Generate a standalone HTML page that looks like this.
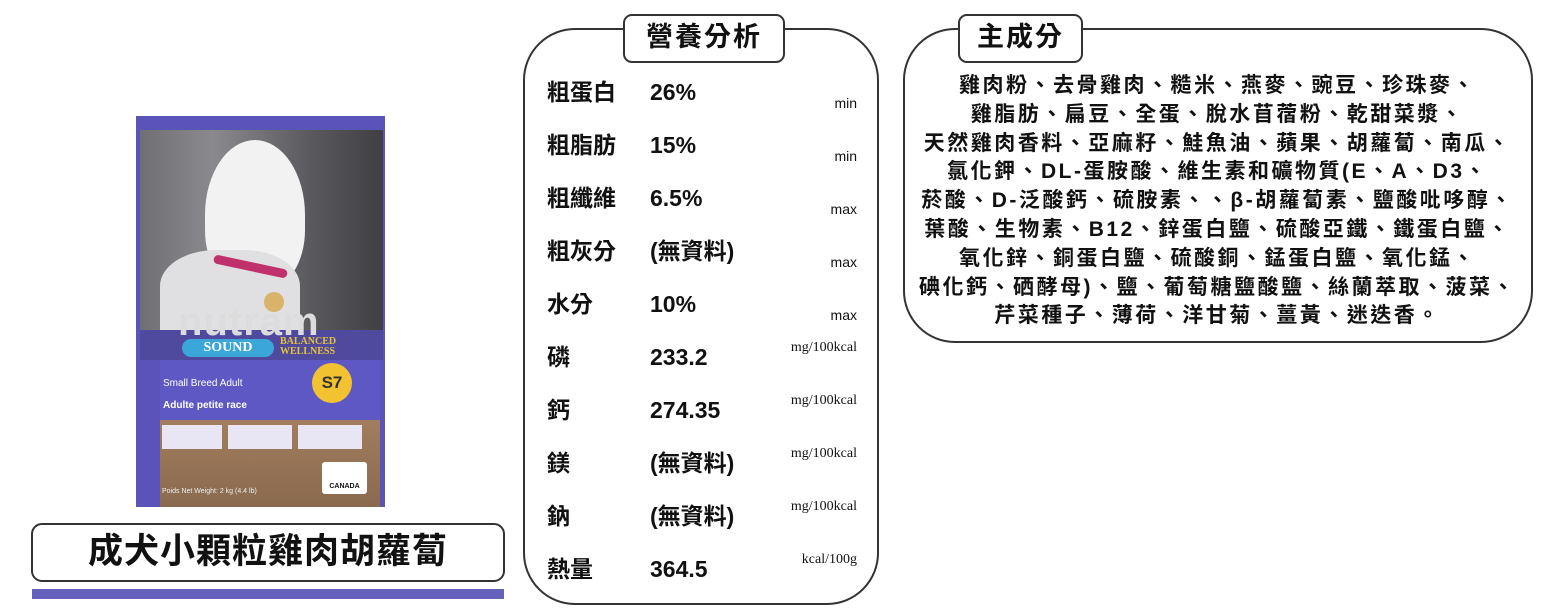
<!DOCTYPE html>
<html><head><meta charset="utf-8"><style>
body{margin:0;width:1559px;height:614px;background:#fff;position:relative;overflow:hidden;font-family:"Liberation Sans","Noto Sans CJK TC",sans-serif;color:#111}
.abs{position:absolute}
.panel{position:absolute;border:2.5px solid #333;border-radius:52px;box-sizing:border-box;background:#fff}
.tbox{position:absolute;border:2.5px solid #333;border-radius:9px;background:#fff;box-sizing:border-box;text-align:center;font-size:27px;line-height:43px;letter-spacing:2px;font-weight:bold}
.lab{position:absolute;left:547px;font-size:23px;line-height:30px;font-weight:bold}
.val{position:absolute;left:650px;font-size:23px;line-height:30px;font-weight:bold}
.unit{position:absolute;right:702px;font-size:14px;line-height:16px}
.unit2{position:absolute;right:702px;font-size:14px;line-height:16px;font-family:"Liberation Serif",serif}
.ing{position:absolute;left:895px;width:645px;top:72px;text-align:center;font-size:21px;line-height:28.8px;letter-spacing:2.5px;font-weight:bold;white-space:nowrap}
</style></head><body>
<!-- bag -->
<div class="abs" style="left:136px;top:116px;width:249px;height:391px;background:#5b54b8"></div>
<div class="abs" style="left:140px;top:130px;width:243px;height:210px;background:linear-gradient(90deg,#6f6f74,#8a8a8e 30%,#5a5a5e 70%,#3f3f44)"></div>
<div class="abs" style="left:205px;top:140px;width:100px;height:150px;background:#f2f2f2;border-radius:50% 50% 40% 40%"></div>
<div class="abs" style="left:160px;top:250px;width:140px;height:90px;background:#e0e0e3;border-radius:40% 40% 10% 10%"></div>
<div class="abs" style="left:213px;top:262px;width:75px;height:9px;background:#c0306a;border-radius:5px;transform:rotate(12deg)"></div>
<div class="abs" style="left:264px;top:292px;width:20px;height:20px;background:#d9b36a;border-radius:50%"></div>
<div class="abs" style="left:140px;top:330px;width:243px;height:30px;background:#4f4a9e"></div>
<div class="abs" style="left:178px;top:300px;font-size:40px;font-weight:bold;color:#dcdcdc;letter-spacing:1px;line-height:44px">nutram</div>
<div class="abs" style="left:182px;top:339px;width:92px;height:18px;background:#3aa6d9;border-radius:9px;color:#fff;font-weight:bold;font-size:14px;text-align:center;line-height:18px;font-family:'Liberation Serif',serif">SOUND</div>
<div class="abs" style="left:280px;top:337px;font-size:10px;line-height:10px;font-weight:bold;color:#e8c23a;font-family:'Liberation Serif',serif">BALANCED<br>WELLNESS</div>
<div class="abs" style="left:160px;top:360px;width:220px;height:92px;background:#5e58c4"></div>
<div class="abs" style="left:312px;top:363px;width:40px;height:40px;border-radius:50%;background:#f2c230;font-weight:bold;font-size:17px;text-align:center;line-height:40px;color:#333">S7</div>
<div class="abs" style="left:163px;top:378px;font-size:10px;color:#fff;line-height:12px">Small Breed Adult</div>
<div class="abs" style="left:163px;top:400px;font-size:10px;color:#fff;font-weight:bold;line-height:12px">Adulte petite race</div>
<div class="abs" style="left:160px;top:420px;width:220px;height:87px;background:linear-gradient(#a27d5e,#8a6a4e)"></div>
<div class="abs" style="left:162px;top:425px;width:60px;height:24px;background:#e8e6f5"></div>
<div class="abs" style="left:228px;top:425px;width:64px;height:24px;background:#e8e6f5"></div>
<div class="abs" style="left:298px;top:425px;width:64px;height:24px;background:#e8e6f5"></div>
<div class="abs" style="left:322px;top:462px;width:45px;height:32px;background:#fff;border-radius:3px;font-size:7px;text-align:center;line-height:50px;font-weight:bold">CANADA</div>
<div class="abs" style="left:162px;top:488px;font-size:7px;color:#eee">Poids Net Weight: 2 kg (4.4 lb)</div>

<div class="tbox" style="left:31px;top:523px;width:474px;height:59px;font-size:35px;line-height:54px;border-radius:11px;letter-spacing:1px">成犬小顆粒雞肉胡蘿蔔</div>
<div class="abs" style="left:32px;top:589px;width:472px;height:10px;background:#6661bb"></div>

<!-- middle -->
<div class="panel" style="left:523px;top:28px;width:356px;height:577px"></div>
<div class="tbox" style="left:623px;top:14px;width:162px;height:49px">營養分析</div>
<div class="lab" style="top:77px">粗蛋白</div><div class="val" style="top:77px">26%</div><div class="unit" style="top:95px">min</div>
<div class="lab" style="top:130px">粗脂肪</div><div class="val" style="top:130px">15%</div><div class="unit" style="top:148px">min</div>
<div class="lab" style="top:183px">粗纖維</div><div class="val" style="top:183px">6.5%</div><div class="unit" style="top:201px">max</div>
<div class="lab" style="top:236px">粗灰分</div><div class="val" style="top:236px">(無資料)</div><div class="unit" style="top:254px">max</div>
<div class="lab" style="top:289px">水分</div><div class="val" style="top:289px">10%</div><div class="unit" style="top:307px">max</div>
<div class="lab" style="top:342px">磷</div><div class="val" style="top:342px">233.2</div><div class="unit2" style="top:340px">mg/100kcal</div>
<div class="lab" style="top:395px">鈣</div><div class="val" style="top:395px">274.35</div><div class="unit2" style="top:393px">mg/100kcal</div>
<div class="lab" style="top:448px">鎂</div><div class="val" style="top:448px">(無資料)</div><div class="unit2" style="top:446px">mg/100kcal</div>
<div class="lab" style="top:501px">鈉</div><div class="val" style="top:501px">(無資料)</div><div class="unit2" style="top:499px">mg/100kcal</div>
<div class="lab" style="top:554px">熱量</div><div class="val" style="top:554px">364.5</div><div class="unit2" style="top:552px">kcal/100g</div>

<!-- right -->
<div class="panel" style="left:903px;top:28px;width:630px;height:315px"></div>
<div class="tbox" style="left:958px;top:14px;width:125px;height:49px">主成分</div>
<div class="ing">雞肉粉、去骨雞肉、糙米、燕麥、豌豆、珍珠麥、<br>雞脂肪、扁豆、全蛋、脫水苜蓿粉、乾甜菜漿、<br>天然雞肉香料、亞麻籽、鮭魚油、蘋果、胡蘿蔔、南瓜、<br>氯化鉀、DL-蛋胺酸、維生素和礦物質(E、A、D3、<br>菸酸、D-泛酸鈣、硫胺素、、β-胡蘿蔔素、鹽酸吡哆醇、<br>葉酸、生物素、B12、鋅蛋白鹽、硫酸亞鐵、鐵蛋白鹽、<br>氧化鋅、銅蛋白鹽、硫酸銅、錳蛋白鹽、氧化錳、<br>碘化鈣、硒酵母)、鹽、葡萄糖鹽酸鹽、絲蘭萃取、菠菜、<br>芹菜種子、薄荷、洋甘菊、薑黃、迷迭香。</div>
</body></html>
